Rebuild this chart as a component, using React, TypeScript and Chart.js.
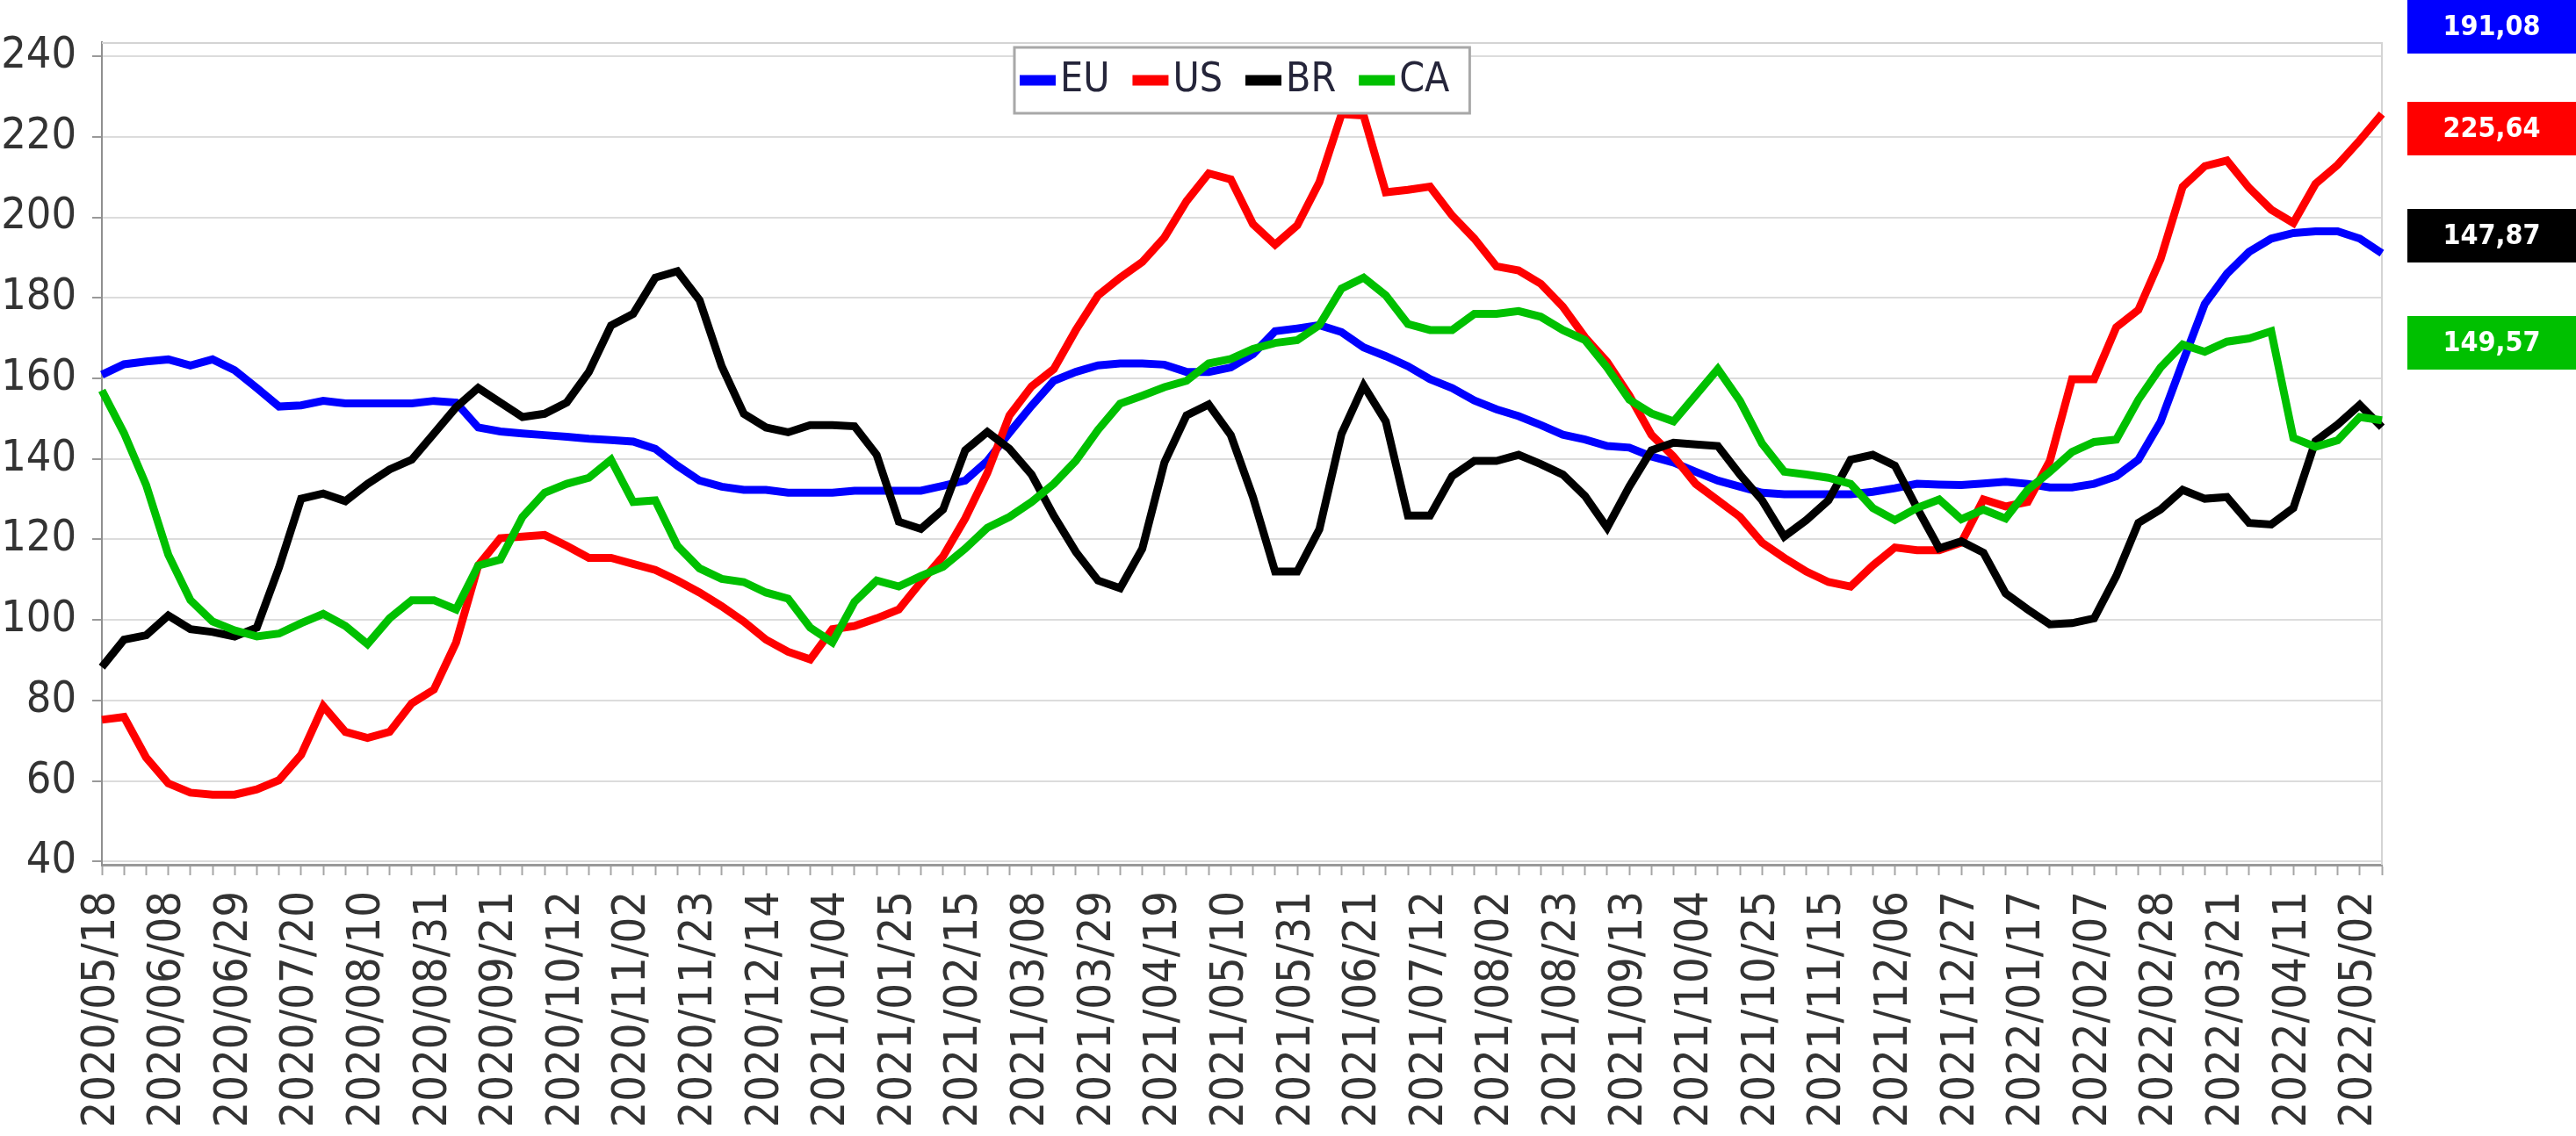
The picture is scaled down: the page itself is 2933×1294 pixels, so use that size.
import React, { useEffect, useRef } from "react";
import { Chart, registerables } from "chart.js";

Chart.register(...registerables);

const categories = [
  "2020/05/18","2020/05/25","2020/06/01","2020/06/08","2020/06/15","2020/06/22","2020/06/29","2020/07/06","2020/07/13","2020/07/20",
  "2020/07/27","2020/08/03","2020/08/10","2020/08/17","2020/08/24","2020/08/31","2020/09/07","2020/09/14","2020/09/21","2020/09/28",
  "2020/10/05","2020/10/12","2020/10/19","2020/10/26","2020/11/02","2020/11/09","2020/11/16","2020/11/23","2020/11/30","2020/12/07",
  "2020/12/14","2020/12/21","2020/12/28","2021/01/04","2021/01/11","2021/01/18","2021/01/25","2021/02/01","2021/02/08","2021/02/15",
  "2021/02/22","2021/03/01","2021/03/08","2021/03/15","2021/03/22","2021/03/29","2021/04/05","2021/04/12","2021/04/19","2021/04/26",
  "2021/05/03","2021/05/10","2021/05/17","2021/05/24","2021/05/31","2021/06/07","2021/06/14","2021/06/21","2021/06/28","2021/07/05",
  "2021/07/12","2021/07/19","2021/07/26","2021/08/02","2021/08/09","2021/08/16","2021/08/23","2021/08/30","2021/09/06","2021/09/13",
  "2021/09/20","2021/09/27","2021/10/04","2021/10/11","2021/10/18","2021/10/25","2021/11/01","2021/11/08","2021/11/15","2021/11/22",
  "2021/11/29","2021/12/06","2021/12/13","2021/12/20","2021/12/27","2022/01/03","2022/01/10","2022/01/17","2022/01/24","2022/01/31",
  "2022/02/07","2022/02/14","2022/02/21","2022/02/28","2022/03/07","2022/03/14","2022/03/21","2022/03/28","2022/04/04","2022/04/11",
  "2022/04/18","2022/04/25","2022/05/02","2022/05/09"
];

const tickLabels = [
  "2020/05/18","2020/06/08","2020/06/29","2020/07/20","2020/08/10","2020/08/31","2020/09/21","2020/10/12","2020/11/02","2020/11/23",
  "2020/12/14","2021/01/04","2021/01/25","2021/02/15","2021/03/08","2021/03/29","2021/04/19","2021/05/10","2021/05/31","2021/06/21",
  "2021/07/12","2021/08/02","2021/08/23","2021/09/13","2021/10/04","2021/10/25","2021/11/15","2021/12/06","2021/12/27","2022/01/17",
  "2022/02/07","2022/02/28","2022/03/21","2022/04/11","2022/05/02"
];

const euValues = [
  160.9,163.5,164.2,164.7,163.2,164.7,162,157.6,153,153.3,
  154.4,153.8,153.8,153.8,153.8,154.4,154,147.8,146.8,146.3,
  145.9,145.5,145,144.7,144.3,142.5,138.3,134.6,133.1,132.3,
  132.3,131.6,131.6,131.6,132.1,132.1,132.1,132.1,133.3,134.6,
  139.5,146.5,153.2,159.4,161.6,163.2,163.7,163.7,163.4,161.6,
  161.6,162.7,166,171.7,172.4,173.2,171.5,167.7,165.5,163,
  159.8,157.6,154.5,152.3,150.6,148.4,146,144.8,143.2,142.8,
  140.6,139.1,136.8,134.6,133.1,131.6,131.2,131.2,131.2,131.2,
  131.8,132.7,133.8,133.6,133.5,133.9,134.3,133.8,132.9,132.9,
  133.8,135.7,139.8,149.2,164,178.5,186,191.4,194.7,196.1,
  196.5,196.5,194.7,191.08
];

const usValues = [
  75.2,75.9,65.8,59.4,57.1,56.6,56.6,57.9,60.2,66.5,
  78.6,72.2,70.7,72.2,79.3,82.7,94.4,113.5,120.3,120.7,
  121.1,118.4,115.4,115.4,113.9,112.4,109.8,106.8,103.4,99.6,
  95.1,92.1,90.2,97.7,98.5,100.4,102.6,109.4,115.8,125.2,
  136.5,150.8,158,162.3,172,180.6,185,188.9,195,204,
  210.9,209.4,198.3,193.2,198,208.7,225.6,225.3,206.2,206.8,
  207.6,200.4,194.7,187.8,186.8,183.5,177.8,170.2,164.1,155.8,
  146,140.6,133.8,129.7,125.6,119.2,115.4,112,109.4,108.3,
  113.5,118,117.3,117.3,119.2,129.9,128.2,129.3,139.5,159.8,
  159.8,172.7,177,189.6,207.6,212.7,214.1,207.3,201.9,198.6,
  208.3,213,219.1,225.64
];

const brValues = [
  88.3,95.1,96.2,101.1,97.7,97,95.9,98.1,113,130.1,
  131.4,129.5,133.8,137.4,139.8,146.3,152.8,157.6,154,150.4,
  151.2,154,161.6,173.1,176,185,186.6,179.4,163,151.2,
  147.8,146.6,148.4,148.4,148.1,141,124.4,122.6,127.4,142.1,
  146.7,142.5,136.1,125.9,116.9,109.8,107.9,117.7,139.1,150.8,
  153.5,145.9,130.5,112,112,122.5,146.2,158.2,149.3,125.9,
  125.9,135.7,139.5,139.5,141,138.7,136.1,130.8,122.9,133.1,
  142.1,144,143.6,143.2,136.1,129.7,120.7,124.8,129.7,139.8,
  141,138.3,127.8,117.8,119.5,116.7,106.6,102.6,98.9,99.2,
  100.4,110.9,124.1,127.4,132.3,130.1,130.5,124.1,123.7,127.8,
  144.4,148.5,153.4,147.87
];

const caValues = [
  157,146.4,133.5,116.2,104.9,99.6,97.4,95.9,96.6,99.2,
  101.5,98.5,94,100.4,104.9,104.9,102.6,113.5,115,125.6,
  131.6,133.8,135.3,139.8,129.3,129.7,118.4,112.8,110.2,109.4,
  106.8,105.3,98.1,94.4,104.5,109.8,108.3,110.9,113.2,117.7,
  122.9,125.6,129.3,133.8,139.5,147.2,153.7,155.7,157.8,159.4,
  163.7,164.8,167.3,168.8,169.5,173.2,182.3,185,180.6,173.5,
  172,172,176,176,176.7,175.3,172,169.5,162.7,154.7,
  151.3,149.3,155.8,162.3,154.4,143.8,136.8,136.1,135.3,133.8,
  127.8,124.8,127.8,129.9,125,127.4,125.2,132.3,136.8,141.7,
  144.2,144.8,154.7,162.7,168.4,166.6,169.1,169.9,171.7,145.2,
  143,144.6,150.4,149.57
];

const seriesNames = ["EU", "US", "BR", "CA"];
const seriesColors = ["#0000ff", "#ff0000", "#000000", "#00c000"];
const seriesValues = [euValues, usValues, brValues, caValues];
const yTickValues = [40, 50, 60, 70, 80, 90, 100, 110, 120, 130, 140, 150, 160, 170, 180, 190, 200, 210, 220, 230, 240];

const FONT = "'DejaVu Sans Condensed', 'DejaVu Sans', sans-serif";

const overlayPlugin = {
  id: "overlay",
  beforeDatasetsDraw(chart: any) {
    const { ctx, chartArea } = chart;
    ctx.save();
    ctx.strokeStyle = "#d4d4d4";
    ctx.lineWidth = 2;
    ctx.beginPath();
    ctx.moveTo(chartArea.left, chartArea.top + 1);
    ctx.lineTo(chartArea.right, chartArea.top + 1);
    ctx.moveTo(chartArea.right, chartArea.top);
    ctx.lineTo(chartArea.right, chartArea.bottom);
    ctx.stroke();
    ctx.restore();
  },
  afterDraw(chart: any) {
    const { ctx, chartArea } = chart;
    const datasets = chart.data.datasets;
    ctx.save();
    // legend
    ctx.font = `46px ${FONT}`;
    const markerW = 41;
    const gapText = 5;
    const gapItem = 26;
    const widths = datasets.map((d: any) => ctx.measureText(d.label).width);
    let total = 6 + 23;
    widths.forEach((w: number, i: number) => {
      total += markerW + gapText + w + (i < widths.length - 1 ? gapItem : 0);
    });
    const cx = (chartArea.left + chartArea.right) / 2;
    const boxL = Math.round(cx - total / 2);
    const boxT = chartArea.top + 6;
    const boxH = 75;
    ctx.fillStyle = "#ffffff";
    ctx.fillRect(boxL, boxT, total, boxH);
    ctx.strokeStyle = "#a8a8a8";
    ctx.lineWidth = 3;
    ctx.strokeRect(boxL, boxT, total, boxH);
    let x = boxL + 6;
    const midY = boxT + boxH / 2;
    datasets.forEach((d: any, i: number) => {
      ctx.fillStyle = d.borderColor;
      ctx.fillRect(x, midY - 6, markerW, 12);
      x += markerW + gapText;
      ctx.fillStyle = "#25253a";
      ctx.textAlign = "left";
      ctx.textBaseline = "middle";
      ctx.fillText(d.label, x, midY + 1);
      x += widths[i] + gapItem;
    });
    // value boxes
    const boxTops = [0, 116, 238, 360];
    const bx = chartArea.right + 29;
    const bw = chart.width - bx;
    ctx.font = `bold 32px ${FONT}`;
    ctx.textAlign = "center";
    ctx.textBaseline = "middle";
    datasets.forEach((d: any, i: number) => {
      const v = d.data[d.data.length - 1];
      ctx.fillStyle = d.borderColor;
      ctx.fillRect(bx, boxTops[i], bw, 61);
      ctx.fillStyle = "#ffffff";
      ctx.fillText(v.toFixed(2).replace(".", ","), bx + bw / 2, boxTops[i] + 32);
    });
    ctx.restore();
  },
};

export default function App() {
  const ref = useRef<HTMLCanvasElement | null>(null);

  useEffect(() => {
    document.body.style.margin = "0";
    document.body.style.overflow = "hidden";
    const canvas = ref.current;
    if (!canvas) return;
    const chart = new Chart(canvas, {
      type: "line",
      data: {
        labels: categories,
        datasets: seriesNames.map((name, i) => ({
          label: name,
          data: seriesValues[i],
          borderColor: seriesColors[i],
          backgroundColor: seriesColors[i],
          borderWidth: 9,
          pointRadius: 0,
          tension: 0,
          fill: false,
          borderJoinStyle: "miter" as const,
          order: seriesNames.length - 1 - i,
        })),
      },
      options: {
        responsive: false,
        animation: false,
        devicePixelRatio: 1,
        layout: { padding: { left: 0, right: 221, top: 34, bottom: 0 } },
        plugins: {
          legend: { display: false },
          tooltip: { enabled: false },
        },
        scales: {
          x: {
            type: "category",
            offset: false,
            grid: {
              display: true,
              drawOnChartArea: false,
              drawTicks: true,
              tickLength: 12,
              tickColor: "#a6a6a6",
              tickWidth: 2,
            },
            border: { display: true, color: "#999999", width: 3 },
            ticks: {
              autoSkip: false,
              maxRotation: 90,
              minRotation: 90,
              padding: 18,
              color: "#333333",
              font: { family: FONT, size: 52 },
              callback: (_v: any, idx: number) =>
                tickLabels.includes(categories[idx]) ? categories[idx] : "",
            },
            afterFit: (s: any) => {
              s.height = 309;
            },
          },
          y: {
            type: "linear",
            min: 39.2,
            max: 243.5,
            grid: {
              color: "#dcdcdc",
              lineWidth: 2,
              tickLength: 11,
              tickColor: "#999999",
              tickWidth: 2,
            },
            border: { display: true, color: "#8f8f8f", width: 2 },
            ticks: {
              stepSize: 10,
              padding: 18,
              color: "#333333",
              font: { family: FONT, size: 50 },
              callback: (v: any) => (Number(v) % 20 === 0 ? String(v) : ""),
            },
            afterBuildTicks: (s: any) => {
              s.ticks = yTickValues.map((v) => ({ value: v }));
            },
            afterFit: (s: any) => {
              s.width = 116;
            },
          },
        },
      },
      plugins: [overlayPlugin],
    });
    return () => chart.destroy();
  }, []);

  return (
    <div style={{ width: 2933, height: 1294 }}>
      <canvas ref={ref} width={2933} height={1294} style={{ display: "block" }} />
    </div>
  );
}
